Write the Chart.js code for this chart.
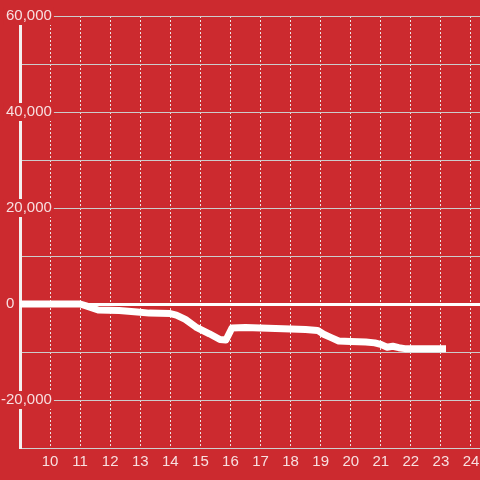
<!DOCTYPE html>
<html>
<head>
<meta charset="utf-8">
<script src="https://cdn.jsdelivr.net/npm/chart.js@4.4.1/dist/chart.umd.min.js"></script>
<style>
html, body { margin: 0; padding: 0; background: #cc2a2f; }
#wrap { width: 480px; height: 480px; }
</style>
</head>
<body>
<div id="wrap"><canvas id="lineChart"></canvas></div>
<script>
// hour of day vs running value
var hours = [9, 11, 11.2, 11.6, 12.3, 12.9, 13.3, 14.0, 14.2, 14.5, 14.85, 15.3, 15.65, 15.85, 16.05,
  16.5, 17.0, 17.5, 18.0, 18.5, 18.9, 19.1, 19.35, 19.6, 20.0, 20.5, 20.8, 21.0, 21.2, 21.4, 21.6, 21.8, 23.17];
var values = [0, 0, -400, -1250, -1350, -1650, -1900, -2000, -2300, -3200, -4800, -6200, -7400, -7500, -5000,
  -4900, -5000, -5100, -5200, -5300, -5500, -6300, -7000, -7700, -7800, -7900, -8100, -8400, -9000, -8800, -9100, -9300, -9300];
var yLabels = [-20000, 0, 20000, 40000, 60000];

var bg = '#cc2a2f';
var labelColor = 'rgba(255,255,255,0.85)';
var font = { family: 'Liberation Sans, Arial, sans-serif', size: 15 };

var points = hours.map(function (h, i) { return { x: h, y: values[i] }; });

var ctx = document.getElementById('lineChart').getContext('2d');
var chart = new Chart(ctx, {
  type: 'line',
  data: {
    datasets: [{
      data: points,
      borderColor: '#ffffff',
      borderWidth: 7,
      borderJoinStyle: 'round',
      pointRadius: 0,
      tension: 0,
      fill: false
    }]
  },
  options: {
    responsive: true,
    maintainAspectRatio: false,
    animation: false,
    layout: { padding: { top: 16, right: 0, bottom: 0, left: 0 } },
    plugins: { legend: { display: false }, tooltip: { enabled: false } },
    scales: {
      x: {
        type: 'linear',
        min: 9,
        max: 24.3,
        afterFit: function (s) { s.height = 32; s.paddingLeft = 0; s.paddingRight = 0; },
        grid: { color: '#ece4e4', lineWidth: 1, drawTicks: false },
        border: { color: '#cfcfcf', width: 1, dash: [2, 2] },
        ticks: {
          stepSize: 1,
          includeBounds: false,
          padding: 5,
          color: labelColor,
          font: font,
          maxRotation: 0,
          callback: function (v) { return v === 9 ? '' : String(v); }
        }
      },
      y: {
        min: -30000,
        max: 60000,
        afterFit: function (s) { s.width = 20; },
        grid: {
          drawTicks: false,
          color: function (c) { return c.tick && c.tick.value === 0 ? '#ffffff' : '#cccccc'; },
          lineWidth: function (c) { return c.tick && c.tick.value === 0 ? 3 : 1; }
        },
        border: { color: '#f4f0f0', width: 3 },
        ticks: {
          stepSize: 10000,
          mirror: true,
          crossAlign: 'far',
          padding: -19,
          z: 1,
          color: labelColor,
          font: font,
          showLabelBackdrop: true,
          backdropPadding: { top: 0, bottom: 0, left: 2, right: 2 },
          backdropColor: function (c) {
            return c.tick && c.tick.value !== 0 && yLabels.indexOf(c.tick.value) >= 0 ? bg : 'rgba(0,0,0,0)';
          },
          callback: function (v) {
            if (yLabels.indexOf(v) < 0) return '';
            if (v === 0) return '0         ';
            return v.toLocaleString('en-US');
          }
        }
      }
    }
  }
});
</script>
</body>
</html>
